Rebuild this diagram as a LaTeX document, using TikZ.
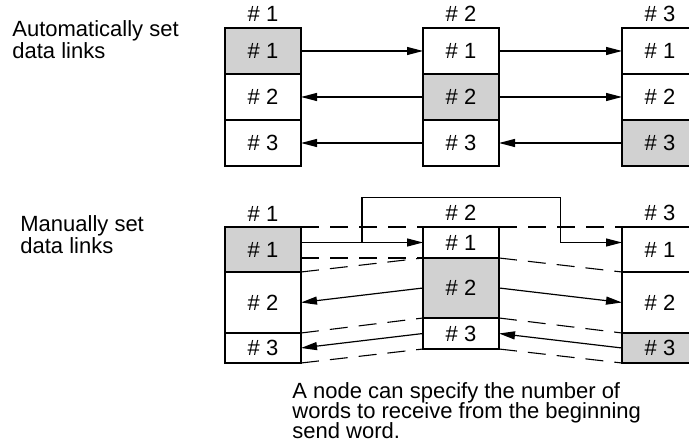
\documentclass[tikz,border=0pt]{standalone}
\usepackage{fontspec}
\setmainfont{Liberation Sans}
\usetikzlibrary{positioning,arrows.meta,calc}
\newcommand{\lab}{\fontsize{11}{11}\selectfont}
\newcommand{\remfont}{\fontsize{11}{10}\selectfont\lineskiplimit=-5pt\relax}
\tikzset{
  cell/.style={draw,line width=0.65pt,minimum width=38pt,inner sep=0pt,
              outer sep=0pt,fill=white,font=\lab},
  sendcell/.style={cell,fill=black!18},
  head/.style={inner sep=0pt,font=\lab},
  note/.style={inner sep=0pt,align=left,font=\lab},
  link/.style={-{Triangle[length=8pt,width=4pt]},line width=0.6pt},
  wordmap/.style={line width=0.55pt,dash pattern=on 9pt off 5.5pt},
}

\begin{document}
\begin{tikzpicture}[x=0.5pt,y=-0.5pt,node distance=0pt]
  \useasboundingbox (0,0) rectangle (689,442);
  % automatically set data links
  \node[note,anchor=north west] (autotxt) at (12,20) {Automatically set\\data links};
  \node[sendcell,minimum height=23pt,anchor=north] (a1w1) at (263,28) {\# 1};
  \node[cell,minimum height=23pt,below=of a1w1] (a1w2) {\# 2};
  \node[cell,minimum height=23pt,below=of a1w2] (a1w3) {\# 3};
  \node[cell,minimum height=23pt,anchor=north] (a2w1) at (461,28) {\# 1};
  \node[sendcell,minimum height=23pt,below=of a2w1] (a2w2) {\# 2};
  \node[cell,minimum height=23pt,below=of a2w2] (a2w3) {\# 3};
  \node[cell,minimum height=23pt,anchor=north] (a3w1) at (660,28) {\# 1};
  \node[cell,minimum height=23pt,below=of a3w1] (a3w2) {\# 2};
  \node[sendcell,minimum height=23pt,below=of a3w2] (a3w3) {\# 3};
  \node[head,above=3pt of a1w1] (a1h) {\# 1};
  \node[head,above=3pt of a2w1] (a2h) {\# 2};
  \node[head,above=3pt of a3w1] (a3h) {\# 3};
  \draw[link] (a1w1) -- (a2w1);
  \draw[link] (a2w1) -- (a3w1);
  \draw[link] (a2w2) -- (a1w2);
  \draw[link] (a2w2) -- (a3w2);
  \draw[link] (a2w3) -- (a1w3);
  \draw[link] (a3w3) -- (a2w3);

  % manually set data links
  \node[note,anchor=north west] (mantxt) at (20,215) {Manually set\\data links};
  \node[sendcell,minimum height=22.5pt,anchor=north] (m1w1) at (263,227) {\# 1};
  \node[cell,minimum height=30.5pt,below=of m1w1] (m1w2) {\# 2};
  \node[cell,minimum height=15pt,below=of m1w2] (m1w3) {\# 3};
  \node[cell,minimum height=15.5pt,anchor=north] (m2w1) at (461,227) {\# 1};
  \node[sendcell,minimum height=30pt,below=of m2w1] (m2w2) {\# 2};
  \node[cell,minimum height=15.5pt,below=of m2w2] (m2w3) {\# 3};
  \node[cell,minimum height=22.5pt,anchor=north] (m3w1) at (660,227) {\# 1};
  \node[cell,minimum height=30.5pt,below=of m3w1] (m3w2) {\# 2};
  \node[sendcell,minimum height=15pt,below=of m3w2] (m3w3) {\# 3};
  \node[head,above=2.5pt of m1w1] (m1h) {\# 1};
  \node[head,above=3pt of m2w1] (m2h) {\# 2};
  \node[head,above=3pt of m3w1] (m3h) {\# 3};
  % word boundaries
  \draw[wordmap] (m1w1.north east) -- (m2w1.north west);
  \draw[wordmap] (m1w1.east |- m2w1.south) -- (m2w1.south west);
  \draw[wordmap] (m1w1.south east) -- (m2w1.south west);
  \draw[wordmap] (m1w2.south east) -- (m2w2.south west);
  \draw[wordmap] (m1w3.south east) -- (m2w3.south west);
  \draw[wordmap] (m2w1.north east) -- (m3w1.north west);
  \draw[wordmap] (m2w1.south east) -- (m3w1.south west);
  \draw[wordmap] (m2w2.south east) -- (m3w2.south west);
  \draw[wordmap] (m2w3.south east) -- (m3w3.south west);
  % sent words
  \coordinate (brl) at ($(m1w1.east |- m2w1.west)!0.5!(m2w1.west)$);
  \coordinate (brr) at ($(m2w1.east)!0.5!(m3w1.west |- m2w1.east)$);
  \draw[link] (m1w1.east |- m2w1.west) -- (m2w1.west);
  \draw[link] (brl) -- ++(0,22.5pt) -| (brr) -- (m3w1.west |- m2w1.east);
  \draw[link] (m2w2.west) -- (m1w2.east);
  \draw[link] (m2w2.east) -- (m3w2.west);
  \draw[link] (m2w3.west) -- (m1w3.east);
  \draw[link] (m3w3.west) -- (m2w3.east);

  \node[note,anchor=north west,font=\remfont] (remark) at (292,382)
    {A node can specify the number of\\words to receive from the beginning\\send word.};
\end{tikzpicture}
\end{document}
